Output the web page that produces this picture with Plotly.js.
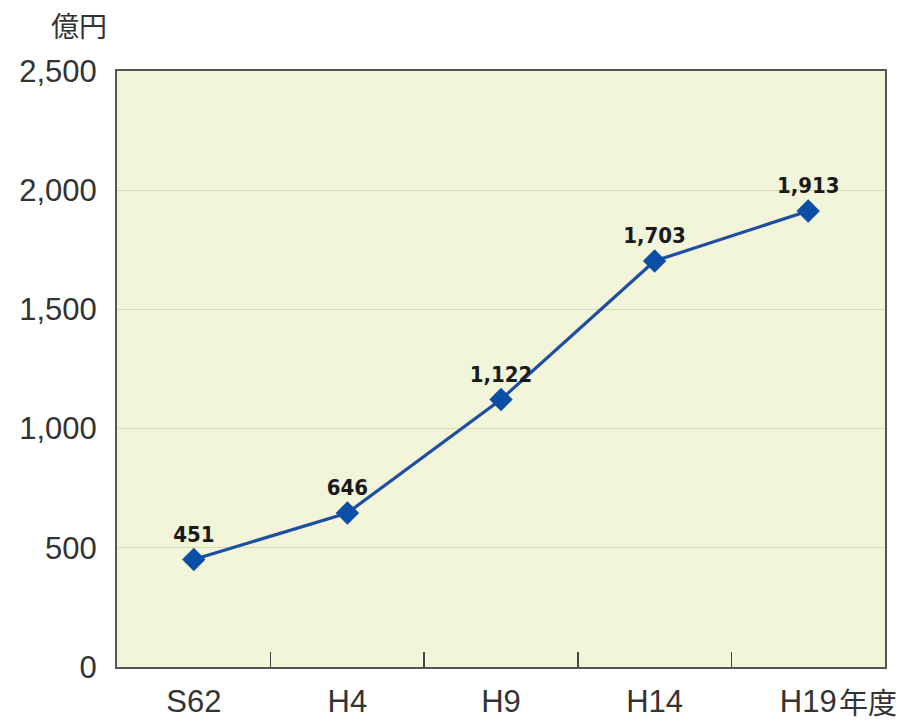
<!DOCTYPE html>
<html><head><meta charset="utf-8">
<script src="https://cdn.plot.ly/plotly-3.0.1.min.js"></script>
<style>html,body{margin:0;padding:0;background:#fff}#c{width:914px;height:723px}</style>
</head><body><div id="c"></div>
<script>
const categories = ["S62", "H4", "H9", "H14", "H19"];
const values = [451, 646, 1122, 1703, 1913];
const valueLabels = ["451", "646", "1,122", "1,703", "1,913"];
const yTicks = [0, 500, 1000, 1500, 2000, 2500];
const yTickLabels = ["0", "500", "1,000", "1,500", "2,000", "2,500"];

const trace = {
  x: categories, y: values, type: "scatter", mode: "lines+markers+text",
  text: valueLabels, textposition: "top center",
  textfont: {family: "DejaVu Sans Condensed, Liberation Sans Narrow, sans-serif", size: 22, color: "#1a1a1a", weight: 600},
  line: {color: "#1d4e9f", width: 3.2},
  marker: {symbol: "diamond", size: 18, color: "#0b4ea5"},
  cliponaxis: false, hoverinfo: "none"
};
const layout = {
  width: 914, height: 723,
  margin: {l: 117, r: 29, t: 71, b: 56},
  paper_bgcolor: "#ffffff", plot_bgcolor: "#f2f5d9",
  showlegend: false,
  font: {family: "Liberation Sans, Arial, sans-serif", color: "#333"},
  xaxis: {
    type: "category", range: [-0.5, 4.5], tickson: "boundaries",
    ticks: "inside", ticklen: 15, tickwidth: 1.5, tickcolor: "#444",
    showline: true, linecolor: "#555", linewidth: 2, mirror: true,
    showgrid: false, tickfont: {size: 31, color: "#333"}, ticklabelstandoff: 6
  },
  yaxis: {
    range: [0, 2500], tickvals: yTicks, ticktext: yTickLabels,
    showline: true, linecolor: "#555", linewidth: 2, mirror: true,
    showgrid: true, gridcolor: "#d7dbad", gridwidth: 1, zeroline: false,
    ticks: "", tickfont: {size: 31, color: "#333"}, ticklabelstandoff: 12
  },
  annotations: [
    {text: "億円", xref: "paper", yref: "paper", x: -0.011, y: 1.0, xanchor: "right", yanchor: "bottom", yshift: 24,
     showarrow: false, font: {family: "Noto Sans CJK JP, sans-serif", size: 28, color: "#333"}},
    {text: "年度", xref: "paper", yref: "paper", x: 0.937, y: 0, xanchor: "left", yanchor: "middle", yshift: -34,
     showarrow: false, font: {family: "Noto Sans CJK JP, sans-serif", size: 29, color: "#333"}}
  ]
};
Plotly.newPlot("c", [trace], layout, {displayModeBar: false, staticPlot: true});
</script></body></html>
